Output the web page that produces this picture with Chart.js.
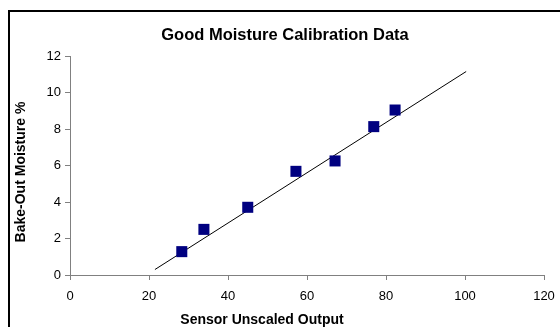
<!DOCTYPE html>
<html>
<head>
<meta charset="utf-8">
<script src="https://cdn.jsdelivr.net/npm/chart.js@4"></script>
<style>
  html, body { margin: 0; padding: 0; background: #fff; }
  canvas { display: block; }
</style>
</head>
<body>
<canvas id="calChart" width="560" height="327"></canvas>
<script>
// calibration points
var sensorOutput = [28.3, 33.9, 45.0, 57.2, 67.1, 76.9, 82.3];
var moisture = [1.28, 2.5, 3.71, 5.68, 6.25, 8.13, 9.04];

// linear trend line end points
var trendX = [21.5, 100.3];
var trendY = [0.3, 11.15];

var xTicks = [0, 20, 40, 60, 80, 100, 120];
var yTicks = [0, 2, 4, 6, 8, 10, 12];

var chartTitle = "Good Moisture Calibration Data";
var xTitle = "Sensor Unscaled Output";
var yTitle = "Bake-Out Moisture %";

var points = sensorOutput.map(function (x, i) { return { x: x, y: moisture[i] }; });
var trend = trendX.map(function (x, i) { return { x: x, y: trendY[i] }; });

// frame + titles, Excel style
var textPlugin = {
    id: 'excelText',
    beforeDraw: function (chart) {
        var ctx = chart.ctx;
        ctx.save();
        ctx.strokeStyle = '#000';
        ctx.lineWidth = 2;
        ctx.strokeRect(9, 11, 700, 500);
        ctx.restore();
    },
    afterDraw: function (chart) {
        var ctx = chart.ctx;
        ctx.save();
        ctx.fillStyle = '#000';
        ctx.textAlign = 'center';
        ctx.textBaseline = 'middle';
        ctx.font = 'bold 16.5px "Liberation Sans", Arial, sans-serif';
        ctx.fillText(chartTitle, 285, 35);
        ctx.font = 'bold 14px "Liberation Sans", Arial, sans-serif';
        ctx.fillText(xTitle, 262, 320);
        ctx.translate(21, 172);
        ctx.rotate(-Math.PI / 2);
        ctx.fillText(yTitle, 0, 0);
        ctx.restore();
    }
};

var ctx = document.getElementById("calChart").getContext("2d");
var calChart = new Chart(ctx, {
    type: 'scatter',
    data: {
        datasets: [
            {
                label: "Moisture",
                data: points,
                pointStyle: 'rect',
                pointRadius: 7.8,
                pointHoverRadius: 7.8,
                backgroundColor: '#000080',
                borderColor: '#000080',
                borderWidth: 0
            },
            {
                label: "Trend",
                data: trend,
                type: 'line',
                showLine: true,
                borderColor: '#000',
                borderWidth: 1,
                pointRadius: 0,
                fill: false
            }
        ]
    },
    options: {
        responsive: false,
        animation: false,
        layout: { padding: { top: 56, right: 16, bottom: 0, left: 0 } },
        plugins: {
            legend: { display: false },
            tooltip: { enabled: false },
            title: { display: false }
        },
        scales: {
            x: {
                type: 'linear',
                min: 0,
                max: 120,
                afterBuildTicks: function (s) { s.ticks = xTicks.map(function (v) { return { value: v }; }); },
                afterFit: function (s) { s.height = 52; s.paddingRight = 0; },
                border: { color: '#808080', width: 1 },
                grid: { drawOnChartArea: false, color: '#808080', tickLength: 5 },
                ticks: { color: '#000', padding: 9, font: { family: '"Liberation Sans", Arial', size: 13 }, maxRotation: 0 }
            },
            y: {
                type: 'linear',
                min: 0,
                max: 12,
                afterBuildTicks: function (s) { s.ticks = yTicks.map(function (v) { return { value: v }; }); },
                afterFit: function (s) { s.width = 70; },
                border: { color: '#808080', width: 1 },
                grid: { drawOnChartArea: false, color: '#808080', tickLength: 5 },
                ticks: { color: '#000', padding: 4, font: { family: '"Liberation Sans", Arial', size: 13 } }
            }
        }
    },
    plugins: [textPlugin]
});
</script>
</body>
</html>
